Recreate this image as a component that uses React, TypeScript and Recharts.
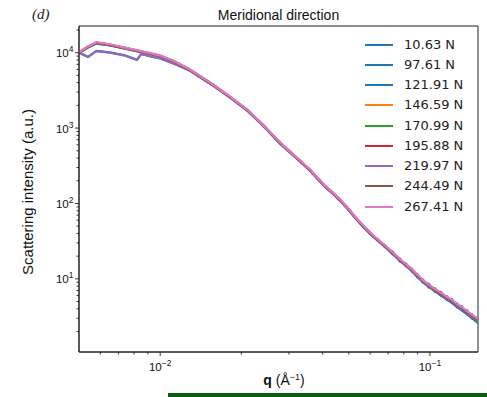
import React from 'react';
import { LineChart, Line, XAxis, YAxis, Legend, ReferenceArea } from 'recharts';

// q values (Å^-1)
const qValues = [0.005, 0.0054, 0.0058, 0.0065, 0.0074, 0.0082, 0.0085, 0.0092, 0.01, 0.0113, 0.0129, 0.0147, 0.0157, 0.0181, 0.021, 0.0242, 0.0278, 0.0303, 0.033, 0.0359, 0.0385, 0.0408, 0.0436, 0.0464, 0.0495, 0.0527, 0.056, 0.0599, 0.064, 0.0681, 0.0727, 0.0774, 0.0815, 0.0858, 0.09, 0.0942, 0.099, 0.1043, 0.1098, 0.1156, 0.1205, 0.1259, 0.1315, 0.1371, 0.143, 0.1505];

const s10_63 = [9950, 8750, 10600, 10100, 9250, 8050, 9600, 8950, 8400, 7100, 5750, 4250, 3650, 2560, 1710, 1050, 620, 470, 360, 272, 208, 166, 135, 108, 85, 64.5, 50.8, 39.8, 32.0, 26.6, 21.4, 17.3, 14.8, 12.6, 10.5, 9.0, 7.8, 6.85, 6.0, 5.3, 4.8, 4.25, 3.8, 3.4, 3.0, 2.6];
const s97_61 = [10000, 11700, 13200, 12500, 11300, 10450, 10200, 9600, 8950, 7500, 5850, 4300, 3700, 2580, 1730, 1065, 630, 478, 364, 276, 212, 168, 139, 110, 88, 65, 52.5, 39.5, 33.8, 26.3, 22.9, 17.0, 16.0, 12.5, 11.5, 8.9, 8.6, 6.7, 6.7, 5.25, 5.4, 4.2, 4.3, 3.4, 3.4, 2.6];
const s121_91 = [10000, 11800, 13300, 12550, 11400, 10500, 10250, 9650, 9000, 7550, 5880, 4330, 3720, 2590, 1735, 1068, 633, 480, 365, 277, 210, 169, 137, 111, 86, 66.5, 51.2, 41.5, 32.0, 28.0, 21.3, 18.5, 14.7, 13.7, 10.4, 9.8, 7.7, 7.5, 6.0, 5.85, 4.8, 4.75, 3.85, 3.85, 3.0, 3.05];
const s146_59 = [10100, 12100, 13700, 12850, 11600, 10700, 10450, 9750, 9100, 7650, 5930, 4370, 3740, 2610, 1745, 1072, 638, 484, 367, 279, 212, 171, 138, 112, 87.5, 66.3, 52.2, 40.8, 33.0, 27.1, 22.2, 17.9, 15.4, 13.0, 11.0, 9.3, 8.2, 7.05, 6.4, 5.5, 5.15, 4.45, 4.1, 3.6, 3.28, 2.8];
const s170_99 = [10000, 11950, 13550, 12700, 11550, 10600, 10380, 9700, 9060, 7610, 5910, 4350, 3725, 2600, 1738, 1069, 634, 481, 366, 278, 211, 170, 138.5, 110.5, 87, 65.8, 51.8, 40.5, 32.7, 27.4, 21.9, 17.7, 15.2, 13.2, 10.8, 9.45, 8.05, 7.2, 6.25, 5.62, 5.0, 4.55, 4.0, 3.68, 3.18, 2.65];
const s195_88 = [10050, 12000, 13600, 12750, 11600, 10650, 10400, 9750, 9100, 7650, 5950, 4380, 3760, 2620, 1750, 1078, 640, 486, 369, 280, 213, 171.5, 139, 112, 87.8, 66.5, 52.3, 41, 33, 27.5, 22.1, 18, 15.4, 13.2, 11, 9.5, 8.15, 7.2, 6.35, 5.65, 5.1, 4.55, 4.08, 3.66, 3.25, 2.9];
const s219_97 = [10050, 8850, 10500, 10000, 9150, 8000, 9550, 9000, 8450, 7150, 5800, 4300, 3680, 2580, 1725, 1060, 628, 478, 362, 275, 209, 168, 137, 110, 86, 65.5, 51.5, 40.2, 32.5, 27.0, 21.8, 17.6, 15.1, 12.9, 10.7, 9.25, 8.0, 7.0, 6.2, 5.5, 5.0, 4.45, 3.98, 3.58, 3.15, 2.78];
const s244_49 = [10000, 11900, 13500, 12700, 11500, 10580, 10330, 9680, 9040, 7590, 5890, 4345, 3728, 2598, 1738, 1069, 634, 481, 365, 277, 210.5, 169.5, 137.5, 110.8, 86.8, 65.9, 51.7, 40.4, 32.7, 27.2, 21.95, 17.75, 15.25, 13.05, 10.85, 9.35, 8.1, 7.1, 6.28, 5.56, 5.06, 4.5, 4.03, 3.63, 3.2, 2.84];
const s267_41 = [10100, 12100, 13800, 12950, 11700, 10800, 10500, 9850, 9150, 7700, 5980, 4400, 3780, 2630, 1760, 1082, 642, 488, 371, 282, 214, 172, 140, 113, 88.5, 67, 53, 41.3, 33.5, 27.8, 22.5, 18.2, 15.7, 13.4, 11.3, 9.6, 8.4, 7.35, 6.55, 5.75, 5.3, 4.65, 4.2, 3.75, 3.35, 2.95];

const seriesNames = ['10.63 N', '97.61 N', '121.91 N', '146.59 N', '170.99 N', '195.88 N', '219.97 N', '244.49 N', '267.41 N'];
const seriesColors = ['#1f77b4', '#1f77b4', '#1f77b4', '#ff7f0e', '#2ca02c', '#d62728', '#9467bd', '#8c564b', '#e377c2'];
const seriesValues = [s10_63, s97_61, s121_91, s146_59, s170_99, s195_88, s219_97, s244_49, s267_41];

const xMajorTicks = [0.01, 0.1];
const xMajorExponents = ['\u22122', '\u22121'];
const xMinorTicks = [0.006, 0.007, 0.008, 0.009, 0.02, 0.03, 0.04, 0.05, 0.06, 0.07, 0.08, 0.09];
const yMajorTicks = [10, 100, 1000, 10000];
const yMajorExponents = ['1', '2', '3', '4'];
const yMinorTicks = [2, 3, 4, 5, 6, 7, 8, 9, 20, 30, 40, 50, 60, 70, 80, 90, 200, 300, 400, 500, 600, 700, 800, 900, 2000, 3000, 4000, 5000, 6000, 7000, 8000, 9000, 20000];

const xDomain = [0.005, 0.1507];
const yDomain = [1.07, 22600];

const data = qValues.map((q, i) => {
  const row: any = { q };
  seriesValues.forEach((arr, j) => {
    row['s' + j] = arr[i];
  });
  return row;
});

const TICK_FONT = '"Liberation Sans", Arial, sans-serif';

const YTick = (props: any) => {
  const { x, y, payload } = props;
  const idx = yMajorTicks.indexOf(payload.value);
  const major = idx >= 0;
  return (
    <g>
      <line x1={x} x2={x - (major ? 4 : 2.5)} y1={y} y2={y} stroke="#222" strokeWidth={0.9} />
      {major && (
        <text x={x - 5.5} y={y + 4.5} textAnchor="end" fontSize={11.5} fontFamily={TICK_FONT} fill="#111">
          10<tspan dy={-5} fontSize={8.5}>{yMajorExponents[idx]}</tspan>
        </text>
      )}
    </g>
  );
};

const XTick = (props: any) => {
  const { x, y, payload } = props;
  const idx = xMajorTicks.indexOf(payload.value);
  const major = idx >= 0;
  return (
    <g>
      <line x1={x} x2={x} y1={y} y2={y + (major ? 4 : 2.5)} stroke="#222" strokeWidth={0.9} />
      {major && (
        <text x={x} y={y + 18.5} textAnchor="middle" fontSize={11.5} fontFamily={TICK_FONT} fill="#111">
          10<tspan dy={-5} fontSize={8.5}>{xMajorExponents[idx]}</tspan>
        </text>
      )}
    </g>
  );
};

const renderLegend = () => (
  <div style={{ fontFamily: '"DejaVu Sans", sans-serif', fontSize: 13, color: '#222' }}>
    {seriesNames.map((name, i) => (
      <div key={name} style={{ display: 'flex', alignItems: 'center', height: 20.25 }}>
        <svg width={28} height={4} style={{ display: 'block' }}>
          <line x1={0} x2={28} y1={2} y2={2} stroke={seriesColors[i]} strokeWidth={2} />
        </svg>
        <span style={{ marginLeft: 11, lineHeight: '14px', whiteSpace: 'nowrap' }}>{name}</span>
      </div>
    ))}
  </div>
);

const YLabel = () => (
  <text
    x={33}
    y={192}
    transform="rotate(-90, 33, 192)"
    textAnchor="middle"
    fontSize={15}
    fontFamily={TICK_FONT}
    fill="#111"
  >
    Scattering intensity (a.u.)
  </text>
);

const XLabel = () => (
  <text x={284} y={385} textAnchor="middle" fontSize={14} fontFamily={TICK_FONT} fill="#111">
    <tspan fontWeight="bold">q</tspan> (Å<tspan dy={-5} fontSize={9}>{'\u22121'}</tspan><tspan dy={5}>)</tspan>
  </text>
);

export default function App() {
  return (
    <div style={{ position: 'absolute', left: 0, top: 0, width: 487, height: 397, background: '#fff', overflow: 'hidden' }}>
      <LineChart width={487} height={397} data={data} margin={{ top: 26, right: 9, left: 0, bottom: 0 }}>
        <XAxis
          dataKey="q"
          type="number"
          scale="log"
          domain={xDomain}
          allowDataOverflow
          ticks={[...xMinorTicks, ...xMajorTicks]}
          interval={0}
          tick={<XTick />}
          tickLine={false}
          tickSize={0}
          tickMargin={0}
          height={45}
          axisLine={{ stroke: '#222', strokeWidth: 1 }}
          label={{ content: () => <XLabel /> }}
        />
        <YAxis
          type="number"
          scale="log"
          domain={yDomain}
          allowDataOverflow
          ticks={[...yMinorTicks, ...yMajorTicks]}
          interval={0}
          tick={<YTick />}
          tickLine={false}
          tickSize={0}
          tickMargin={0}
          width={79}
          axisLine={{ stroke: '#222', strokeWidth: 1 }}
          label={{ content: () => <YLabel /> }}
        />
        <ReferenceArea
          x1={xDomain[0]}
          x2={xDomain[1]}
          y1={yDomain[0]}
          y2={yDomain[1]}
          fill="none"
          fillOpacity={0}
          stroke="#222"
          strokeWidth={1}
          ifOverflow="visible"
        />
        {seriesNames.map((name, j) => (
          <Line
            key={name}
            dataKey={'s' + j}
            name={name}
            type="linear"
            stroke={seriesColors[j]}
            strokeWidth={2.2}
            dot={false}
            activeDot={false}
            isAnimationActive={false}
          />
        ))}
        <Legend
          layout="vertical"
          align="center"
          verticalAlign="middle"
          content={renderLegend}
          wrapperStyle={{ position: 'absolute', left: 365, top: 34.4, width: 120, height: 185 }}
        />
      </LineChart>
      <svg width={487} height={397} style={{ position: 'absolute', left: 0, top: 0, pointerEvents: 'none' }}>
        <text x={32} y={19} fontSize={15} fontStyle="italic" fontFamily='"Liberation Serif", "Times New Roman", serif' fill="#222">(d)</text>
        <text x={278.5} y={20} textAnchor="middle" fontSize={14} fontFamily={TICK_FONT} fill="#111">Meridional direction</text>
      </svg>
      <div style={{ position: 'absolute', left: 168, top: 392.5, width: 319, height: 5, background: '#0b5d14' }} />
    </div>
  );
}
